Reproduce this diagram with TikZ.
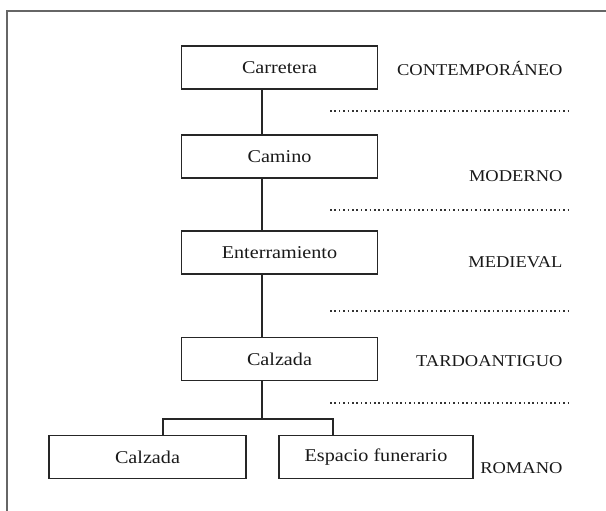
\documentclass[tikz,border=0pt]{standalone}
\usepackage{fontspec}
\setmainfont{Liberation Serif}[FakeStretch=1.12]
\usepackage{tikz}
\usetikzlibrary{arrows}

\begin{document}
\begin{tikzpicture}[x=1pt, y=-1pt, every node/.style={font=\fontsize{18}{20}\selectfont, text=black!90},
		caja/.style={draw=black!85, line width=1.1pt, minimum width=196pt, minimum height=43pt, inner sep=0pt},
		epoca/.style={anchor=base east, font=\fontsize{16.5}{20}\selectfont},
		limite/.style={black!80, line width=1.5pt, dash pattern=on 1.6pt off 2.8pt},
		rama/.style={black!85, line width=1.1pt}]
				\useasboundingbox (0,0) rectangle (606,511);
				\draw [black!60, line width=1.5pt] (7,511) -- (7,11) -- (606,11);
				\node [caja] (carretera) at (279.5,67.5) {Carretera};
				\node [caja] (camino) at (279.5,156.5) {Camino};
				\node [caja] (enterramiento) at (279.5,252.5) {Enterramiento};
				\node [caja] (calzada) at (279.5,359) {Calzada};
				\node [caja, minimum width=197pt] (calzadaromana) at (147.5,457) {Calzada};
				\node [caja, minimum width=194pt] (funerario) at (376,457) {Espacio funerario};
				\coordinate (tronco) at (262,0);
				\coordinate (cruce) at (262,419);
				\coordinate (izq) at (163,419);
				\coordinate (der) at (333,419);
				\draw [rama] (carretera.south -| tronco) -- (camino.north -| tronco);
				\draw [rama] (camino.south -| tronco) -- (enterramiento.north -| tronco);
				\draw [rama] (enterramiento.south -| tronco) -- (calzada.north -| tronco);
				\draw [rama] (calzada.south -| tronco) -- (cruce);
				\draw [rama] (calzadaromana.north -| izq) -- (izq) -- (der) -- (funerario.north -| der);
				\draw [limite] (330,111) -- (568,111);
				\draw [limite] (330,210) -- (568,210);
				\draw [limite] (330,311) -- (568,311);
				\draw [limite] (330,403) -- (568,403);
				\node [epoca] (contemporaneo) at (566,76) {CONTEMPORÁNEO};
				\node [epoca] (moderno) at (566,181) {MODERNO};
				\node [epoca] (medieval) at (566,267) {MEDIEVAL};
				\node [epoca] (tardoantiguo) at (566,366) {TARDOANTIGUO};
				\node [epoca] (romano) at (566,473) {ROMANO};
			\end{tikzpicture}
\end{document}
